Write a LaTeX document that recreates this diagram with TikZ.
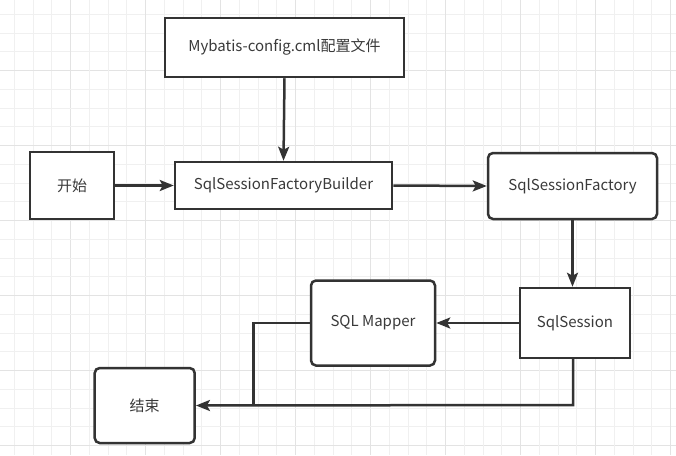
\documentclass[tikz,border=0pt]{standalone}
\usepackage{fontspec}
\setmainfont{Noto Sans CJK SC}
\usetikzlibrary{arrows.meta}
\definecolor{ink}{HTML}{333333}
\definecolor{txt}{HTML}{3A3A3A}
\definecolor{gridminor}{HTML}{F0F0F0}
\definecolor{gridmajor}{HTML}{E3E3E3}
\tikzset{
  box/.style={draw=ink, line width=2.5pt, fill=white, text=txt, font=\fontsize{15}{18}\selectfont, inner sep=0pt},
  sqbox/.style={box},
  rbox/.style={box, rounded corners=5pt},
  conn/.style={draw=ink, line width=2.5pt, -{Stealth[length=14pt,width=11pt,inset=3pt]}},
  plain/.style={draw=ink, line width=2.5pt}
}
\begin{document}
\begin{tikzpicture}[x=1pt,y=-1pt]
\useasboundingbox (0,0) rectangle (676,455);
\fill[white] (0,0) rectangle (676,455);
% grid
\foreach \i in {0,...,37}{
  \pgfmathsetmacro{\gx}{-4.3+\i*18.75}
  \pgfmathtruncatemacro{\m}{mod(\i,4)}
  \ifnum\m=0
    \draw[gridmajor, line width=1.1pt] (\gx,0) -- (\gx,455);
    \draw[gridmajor, line width=1.1pt] (0,\gx) -- (676,\gx);
  \else
    \draw[gridminor, line width=1pt] (\gx,0) -- (\gx,455);
    \draw[gridminor, line width=1pt] (0,\gx) -- (676,\gx);
  \fi
}
% nodes
\node[sqbox, minimum width=239pt, minimum height=59pt] (cfg) at (284.5,47.5) {Mybatis-config.cml配置文件};
\node[sqbox, minimum width=84pt, minimum height=67pt] (start) at (72,185.5) {开始};
\node[sqbox, minimum width=217pt, minimum height=47pt] (builder) at (283.5,185.5) {SqlSessionFactoryBuilder};
\node[rbox, minimum width=169pt, minimum height=66pt] (factory) at (572.5,186) {SqlSessionFactory};
\node[rbox, minimum width=124pt, minimum height=85pt] (mapper) at (373,323) {SQL Mapper};
\node[sqbox, minimum width=110pt, minimum height=70pt] (session) at (575,323) {SqlSession};
\node[rbox, minimum width=100pt, minimum height=75pt] (end) at (144.7,405.5) {结束};
% helper coordinates
\coordinate (mbend) at (253.4,323);
\coordinate (sdown) at (573,359);
\coordinate (scorner) at (573,405);
% connectors
\draw[conn] (cfg.south) -- (builder.north);
\draw[conn] (start.east) -- (builder.west);
\draw[conn] (builder.east) -- (factory.west);
\draw[conn] (factory.south) -- (factory.south |- session.north);
\draw[conn] (session.west) -- (mapper.east);
\draw[plain] (mapper.west) -- (mbend) -- (mbend |- end.east);
\draw[conn] (sdown) -- (scorner) -- (end.east);
\end{tikzpicture}
\end{document}
